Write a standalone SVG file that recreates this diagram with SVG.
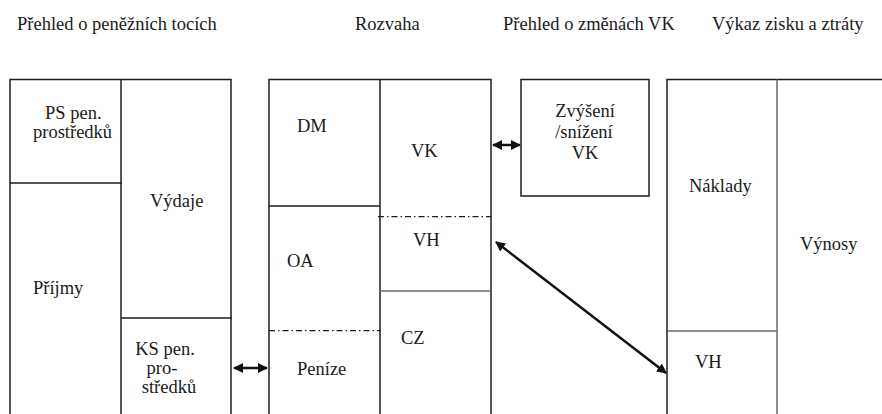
<svg xmlns="http://www.w3.org/2000/svg" width="882" height="414" viewBox="0 0 882 414">
<defs>
<style>
text{font-family:'Liberation Serif','Times New Roman',serif;font-size:18.5px;fill:#1a1a1a}
.ln{stroke:#1e1e1e;stroke-width:1.5;fill:none}
.gr{stroke:#6a6a6a;stroke-width:1.5;fill:none}
.dd{stroke:#1e1e1e;stroke-width:1.2;fill:none;stroke-dasharray:6 3 1.5 3}
.ar{stroke:#111;stroke-width:2.5;fill:none}
.c{text-anchor:middle}
</style>
<marker id="ah" viewBox="0 0 10 10" refX="9" refY="5" markerWidth="4" markerHeight="4" orient="auto-start-reverse" markerUnits="strokeWidth">
<path d="M0,0 L10,5 L0,10 Z" fill="#111"/>
</marker>
</defs>
<rect width="882" height="414" fill="#fff"/>
<g id="titles">
<text x="17" y="30">Přehled o peněžních tocích</text>
<text x="355" y="30">Rozvaha</text>
<text x="503" y="30">Přehled o změnách VK</text>
<text x="712" y="30">Výkaz zisku a ztráty</text>
</g>
<g id="cashflow">
<path class="ln" d="M10,420 V79.5 H231 V420 M121,79.5 V420"/>
<g id="ps"><line class="ln" x1="10" y1="183" x2="122" y2="183"/><text x="45" y="119">PS pen.</text><text x="33" y="138">prostředků</text></g>
<g id="prijmy"><text x="33" y="294">Příjmy</text></g>
<g id="vydaje"><text x="150" y="207">Výdaje</text></g>
<g id="ks"><line class="ln" x1="121" y1="318" x2="232" y2="318"/><text class="c" x="165" y="355">KS pen.</text><text class="c" x="162" y="374">pro-</text><text class="c" x="169" y="393">středků</text></g>
</g>
<g id="balance">
<path class="ln" d="M269,420 V79.5 H491 V420 M380,79.5 V420"/>
<g id="dm"><line class="ln" x1="269" y1="206" x2="380" y2="206"/><text x="297" y="132">DM</text></g>
<g id="oa"><text x="287" y="267">OA</text></g>
<g id="penize"><line class="dd" x1="269" y1="330.7" x2="381" y2="330.7"/><text x="297" y="375">Peníze</text></g>
<g id="vk"><text x="411" y="157">VK</text></g>
<g id="vh"><line class="dd" x1="378" y1="216.7" x2="491" y2="216.7"/><text x="413" y="246">VH</text></g>
<g id="cz"><line class="gr" x1="380" y1="291" x2="491" y2="291"/><text x="401" y="344">CZ</text></g>
</g>
<g id="zmenaVK">
<rect class="ln" x="521" y="79.5" width="128" height="116.5"/>
<text class="c" x="585" y="117">Zvýšení</text>
<text class="c" x="584" y="138">/snížení</text>
<text class="c" x="585" y="159">VK</text>
</g>
<g id="vzz">
<path class="ln" d="M667,420 V79.5 H890"/>
<line class="gr" x1="777" y1="79.5" x2="777" y2="420"/>
<g id="naklady"><line class="gr" x1="667" y1="331" x2="777" y2="331"/><text x="689" y="192">Náklady</text></g>
<g id="vh2"><text x="695" y="368">VH</text></g>
<g id="vynosy"><text x="800" y="250">Výnosy</text></g>
</g>
<g id="connectors">
<line class="ar" x1="234" y1="368" x2="267" y2="368" marker-start="url(#ah)" marker-end="url(#ah)"/>
<line class="ar" x1="493" y1="145" x2="520" y2="145" marker-start="url(#ah)" marker-end="url(#ah)"/>
<line class="ar" x1="496" y1="242" x2="666" y2="373" marker-start="url(#ah)" marker-end="url(#ah)"/>
</g>
</svg>
